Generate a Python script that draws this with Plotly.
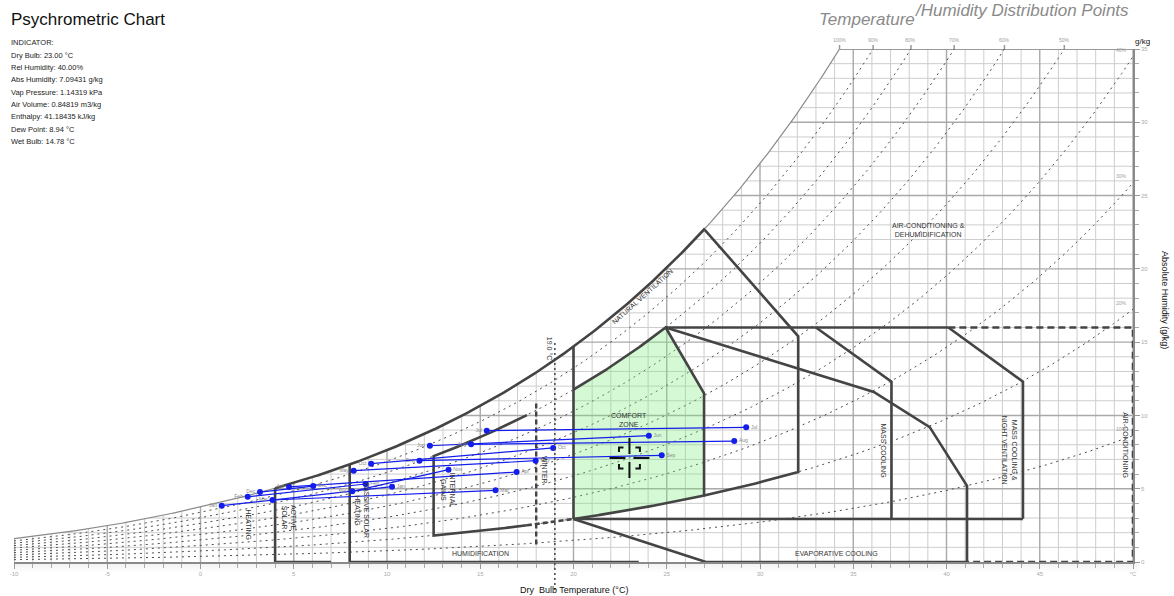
import numpy as np
import plotly.graph_objects as go

# ---------------------------------------------------------------- data
MONTHS = ['Jan', 'Feb', 'Mar', 'Apr', 'May', 'Jun',
          'Jul', 'Aug', 'Sep', 'Oct', 'Nov', 'Dec']
# daily minimum temperature point (°C, g/kg)
T_LOW = [1.14, 2.53, 3.86, 4.75, 8.21, 12.30, 15.35, 14.51, 11.74, 9.15, 8.14, 3.19]
W_LOW = [3.84, 4.45, 4.23, 5.12, 6.23, 7.93, 8.96, 8.03, 6.91, 6.71, 4.82, 4.77]
# daily maximum temperature point (°C, g/kg)
T_HIGH = [10.27, 8.85, 15.82, 16.95, 17.97, 24.04, 29.26, 28.62, 24.73, 18.91, 13.30, 6.04]
W_HIGH = [5.14, 5.32, 4.89, 6.14, 6.91, 8.62, 9.19, 8.25, 7.28, 7.78, 6.30, 5.18]

# indicator state
IND_T = 23.0
IND_RH = 40.0
IND_W = 7.09431
IND_TEXT = ['INDICATOR:',
            'Dry Bulb: %.2f °C' % IND_T,
            'Rel Humidity: %.2f%%' % IND_RH,
            'Abs Humidity: %.5f g/kg' % IND_W,
            'Vap Pressure: 1.14319 kPa',
            'Air Volume: 0.84819 m3/kg',
            'Enthalpy: 41.18435 kJ/kg',
            'Dew Point: 8.94 °C',
            'Wet Bulb: 14.78 °C']

# chart extent
T_MIN, T_MAX = -10, 50
W_MAX = 35
RH_LINES = [0.1, 0.2, 0.3, 0.4, 0.5, 0.6, 0.7, 0.8, 0.9]
X_TICKS = list(range(-10, 50, 5))

# design strategy boundaries (°C, g/kg)
COMFORT_T = [20.0, 27.0]          # left / right dry bulb limits
COMFORT_RH = [0.20, 0.80]         # lower / upper humidity curve
COMFORT_TOP_W = 16.0              # upper humidity ratio of the cooling zones
COMFORT_RIGHT_W = 11.5
NATVENT_T = [27.05, 32.05]
NATVENT_W = [22.65, 15.4]
EVAP_T = [36.1, 39.1, 41.1, 41.1, 27.1]
EVAP_W = [11.6, 9.2, 5.2, 0.0, 0.0]
MASS_T = [33.0, 37.05, 37.05]
MASS_W = [16.0, 12.3, 2.95]
NIGHT_T = [40.1, 44.1, 44.1]
NIGHT_W = [16.0, 12.3, 2.95]
ACTIVE_SOLAR_T = [4.0, 7.0]
PASSIVE_SOLAR_T = [8.0, 23.5]
INTERNAL_T = [12.5, 17.5, 20.0]
WINTER_T = 18.0
WINTER_W = [1.2, 10.9]
SETPOINT_T = 19.0

# ---------------------------------------------------------------- psychrometrics
P_ATM = 101.325  # kPa


def sat_pressure(t):
    t = np.asarray(t, dtype=float)
    water = 0.61078 * np.exp(17.27 * t / (t + 237.3))
    ice = 0.61078 * np.exp(21.875 * t / (t + 265.5))
    return np.where(t < 0, ice, water)


def w_sat(t):
    ps = sat_pressure(t)
    return 622.0 * ps / (P_ATM - ps)


def w_rh(t, rh):
    return rh * w_sat(t)


T_FINE = np.linspace(T_MIN, T_MAX, 3001)


def t_on_curve(rh, w):
    return float(np.interp(w, rh * w_sat(T_FINE), T_FINE))


def rh_curve(rh, t0=T_MIN, t1=T_MAX, n=400):
    t_end = min(t1, t_on_curve(rh, W_MAX)) if rh * w_sat(t1) > W_MAX else t1
    t = np.linspace(t0, t_end, n)
    return t, w_rh(t, rh)


# ---------------------------------------------------------------- layout helpers
L, R, TOP, BOT = 10, 1133, 49, 562
PX_C = (R - L) / (T_MAX - T_MIN)
PX_G = (BOT - TOP) / W_MAX


def px(x):
    return (x - L) / (R - L)


def py(y):
    return (BOT - y) / (BOT - TOP)


fig = go.Figure()


def add_line(x, y, color, width, dash='solid'):
    fig.add_trace(go.Scatter(x=x, y=y, mode='lines', hoverinfo='skip', showlegend=False,
                             line=dict(color=color, width=width, dash=dash)))


# ---------------------------------------------------------------- grid below saturation
for major in (False, True):
    xs, ys = [], []
    for t in range(T_MIN, T_MAX + 1):
        if (t % 5 == 0) != major:
            continue
        xs += [t, t, None]
        ys += [0, min(float(w_sat(t)), W_MAX), None]
    for w in range(1, W_MAX):
        if (w % 5 == 0) != major:
            continue
        xs += [t_on_curve(1.0, w), T_MAX, None]
        ys += [w, w, None]
    add_line(xs, ys, '#a9a9a9' if major else '#cdcdcd', 1.4 if major else 1.0)

# top border
add_line([t_on_curve(1.0, W_MAX), T_MAX], [W_MAX, W_MAX], '#9a9a9a', 2)

# relative humidity curves
for rh in RH_LINES:
    t, w = rh_curve(rh)
    add_line(t, w, '#4d4d4d', 1, '2px,4px')

# saturation curve
t, w = rh_curve(1.0)
add_line(t, w, '#8a8a8a', 1.2)

# ---------------------------------------------------------------- strategy zones
ZC = '#444444'
ZW = 2.6

# comfort zone
t_apex = t_on_curve(COMFORT_RH[1], COMFORT_TOP_W)
tu = np.linspace(COMFORT_T[0], t_apex, 60)
tl = np.linspace(COMFORT_T[1], COMFORT_T[0], 60)
cx = list(tu) + [COMFORT_T[1], COMFORT_T[1]] + list(tl)
cy = list(w_rh(tu, COMFORT_RH[1])) + [COMFORT_RIGHT_W, float(w_rh(COMFORT_T[1], COMFORT_RH[0]))] + list(w_rh(tl, COMFORT_RH[0]))
fig.add_trace(go.Scatter(x=cx, y=cy, mode='lines', fill='toself', fillcolor='rgba(120,235,120,0.32)',
                         line=dict(color=ZC, width=ZW), hoverinfo='skip', showlegend=False))

# saturation edge of heating / ventilation zones
ts = np.linspace(ACTIVE_SOLAR_T[0], NATVENT_T[0], 200)
add_line(ts, w_sat(ts), ZC, ZW)

# natural ventilation
tb = np.linspace(NATVENT_T[1], COMFORT_T[1], 40)
add_line([NATVENT_T[0], NATVENT_T[1]] + list(tb),
         [NATVENT_W[0], NATVENT_W[1]] + list(w_rh(tb, COMFORT_RH[0])), ZC, ZW)
add_line([COMFORT_T[0], COMFORT_T[0]], [float(w_rh(COMFORT_T[0], COMFORT_RH[0])), float(w_sat(COMFORT_T[0]))], ZC, ZW)

# evaporative cooling
w_corner = float(w_rh(COMFORT_T[0], COMFORT_RH[0]))
add_line([t_apex] + EVAP_T + [COMFORT_T[0]], [COMFORT_TOP_W] + EVAP_W + [w_corner], ZC, ZW)

# mass cooling / night ventilation
add_line([t_apex] + NIGHT_T[:1], [COMFORT_TOP_W, COMFORT_TOP_W], ZC, ZW)
add_line(MASS_T, MASS_W, ZC, ZW)
add_line(NIGHT_T, NIGHT_W, ZC, ZW)
add_line([COMFORT_T[0], NIGHT_T[-1]], [w_corner, w_corner], ZC, ZW)

# air conditioning (dashed)
add_line([NIGHT_T[0], T_MAX, T_MAX, EVAP_T[-2]], [COMFORT_TOP_W, COMFORT_TOP_W, 0, 0], ZC, ZW, '7px,4px')

# active / passive solar
add_line([ACTIVE_SOLAR_T[0], ACTIVE_SOLAR_T[0], None, ACTIVE_SOLAR_T[0], ACTIVE_SOLAR_T[1]],
         [float(w_sat(ACTIVE_SOLAR_T[0])), 0, None, 0, 0], ZC, ZW)
add_line([PASSIVE_SOLAR_T[0], PASSIVE_SOLAR_T[0], None, PASSIVE_SOLAR_T[0], PASSIVE_SOLAR_T[1]],
         [float(w_sat(PASSIVE_SOLAR_T[0])), 0, None, 0, 0], ZC, ZW)

# internal gains
ti = np.linspace(INTERNAL_T[0], INTERNAL_T[1], 40)
add_line(list(ti[::-1]) + [INTERNAL_T[0]] + list(ti),
         list(w_rh(ti[::-1], COMFORT_RH[1])) + [float(w_rh(INTERNAL_T[0], COMFORT_RH[0]))] + list(w_rh(ti, COMFORT_RH[0])),
         ZC, ZW)
tj = np.linspace(INTERNAL_T[1], INTERNAL_T[2], 20)
add_line(tj, w_rh(tj, COMFORT_RH[0]), ZC, ZW, '5px,3px')

# winter / set point
add_line([WINTER_T, WINTER_T], WINTER_W, ZC, 2.4, '5px,3px')

# ---------------------------------------------------------------- monthly points
BLUE = 'rgb(20,30,235)'
for i, m in enumerate(MONTHS):
    fig.add_trace(go.Scatter(
        x=[T_LOW[i], T_HIGH[i]], y=[W_LOW[i], W_HIGH[i]], mode='lines+markers+text',
        text=[m, m], textposition=['middle left', 'middle right'],
        textfont=dict(size=5, color='#888888', family='Arial'),
        line=dict(color=BLUE, width=1.2), marker=dict(color=BLUE, size=6),
        hoverinfo='skip', showlegend=False, cliponaxis=False))

# ---------------------------------------------------------------- indicator cross
bx, by = 10.5 / PX_C, 10.5 / PX_G
ox, oy = 20 / PX_C, 20 / PX_G
gx, gy = 4 / PX_C, 4 / PX_G
ax, ay = 4.5 / PX_C, 4.5 / PX_G
cxs, cys = [], []
for s in (-1, 1):
    cxs += [IND_T + s * ox, IND_T + s * gx, None]
    cys += [IND_W, IND_W, None]
    cxs += [IND_T, IND_T, None]
    cys += [IND_W + s * oy, IND_W + s * gy, None]
for sx in (-1, 1):
    for sy in (-1, 1):
        cxs += [IND_T + sx * (bx - ax), IND_T + sx * bx, IND_T + sx * bx, None]
        cys += [IND_W + sy * by, IND_W + sy * by, IND_W + sy * (by - ay), None]
add_line(cxs, cys, '#111111', 2)

# ---------------------------------------------------------------- annotations
ann = []
FONT = 'Arial, Liberation Sans, sans-serif'


def text(x, y, s, size=7, color='#333333', angle=0, xref='x', yref='y', xa='center', ya='middle', italic=False):
    ann.append(dict(x=x, y=y, xref=xref, yref=yref, text=s, showarrow=False, textangle=angle,
                    xanchor=xa, yanchor=ya,
                    font=dict(size=size, color=color, family=FONT, style='italic' if italic else 'normal')))


text(2.56, 2.55, 'HEATING', angle=90)
text(4.75, 3.0, 'ACTIVE<br>SOLAR', angle=90)
text(8.7, 3.5, 'PASSIVE SOLAR<br>HEATING', angle=90)
text(13.25, 4.9, 'INTERNAL<br>GAINS', angle=90)
text(18.45, 6.3, 'WINTER', angle=90)
text(18.75, 14.6, '19.0 °C', angle=90)
text(23.0, 9.7, 'COMFORT<br>ZONE')
text(23.7, 18.1, 'NATURAL VENTILATION', angle=-42)
text(39.05, 22.65, 'AIR-CONDITIONING &<br>DEHUMIDIFICATION')
text(36.6, 7.6, 'MASS COOLING', angle=90)
text(43.4, 7.6, 'MASS COOLING &<br>NIGHT VENTILATION', angle=90)
text(49.6, 8.0, 'AIR-CONDITIONING', angle=90)
text(15.0, 0.6, 'HUMIDIFICATION')
text(34.1, 0.6, 'EVAPORATIVE COOLING')

# humidity curve labels
shapes = []
for rh in RH_LINES + [1.0]:
    if rh * w_sat(T_MAX) > W_MAX:
        tt = t_on_curve(rh, W_MAX)
        text(tt, py(40), '%d%%' % round(rh * 100), size=5, color='#a0a0a0', yref='paper')
        shapes.append(dict(type='line', xref='x', yref='paper', x0=tt, x1=tt, y0=1.0, y1=py(45),
                           line=dict(color='#999999', width=1.5)))
    else:
        text(49.8, float(w_rh(T_MAX, rh)) + 0.45, '%d%%' % round(rh * 100), size=5, color='#a0a0a0', xa='right')

# set point line reaching below the axis
shapes.append(dict(type='line', xref='x', yref='paper', x0=SETPOINT_T, x1=SETPOINT_T,
                   y0=py(590), y1=py(340), line=dict(color='#444444', width=1.5, dash='2px,3px')))

# soft shadow along bottom edge
for k in range(8):
    op = 0.05 * (1 - k / 8)
    shapes.append(dict(type='rect', xref='paper', yref='paper', layer='below', x0=px(L), x1=px(R + 6),
                       y0=py(BOT + 1 + k * 1.2), y1=py(BOT + 1 + (k + 1) * 1.2),
                       line=dict(width=0), fillcolor='rgba(0,0,0,%.3f)' % op))

# titles
text(px(5), py(20), 'Psychrometric Chart', size=17, color='#111111', xref='paper', yref='paper', xa='left')
for i, line in enumerate(IND_TEXT):
    text(px(5), py(42.7 + i * 12.33), line, size=7.5, color='#222222', xref='paper', yref='paper', xa='left')
text(px(916), py(20), 'Temperature', size=17, color='#8a8a8a', xref='paper', yref='paper', xa='right', italic=True)
text(px(912), py(10), '/Humidity Distribution Points', size=17, color='#8a8a8a', xref='paper', yref='paper', xa='left', italic=True)
text(px(1143), py(41), 'g/kg', size=8, color='#111111', xref='paper', yref='paper')
text(px(572), py(590), 'Dry  Bulb Temperature (°C)', size=9, color='#111111', xref='paper', yref='paper')
text(px(1165), py(300), 'Absolute Humidity (g/kg)', size=9, color='#111111', xref='paper', yref='paper', angle=90)

fig.update_layout(
    width=1174, height=596, autosize=False,
    margin=dict(l=L, r=1174 - R, t=TOP, b=596 - BOT),
    paper_bgcolor='white', plot_bgcolor='white',
    showlegend=False, annotations=ann, shapes=shapes,
    xaxis=dict(range=[T_MIN, T_MAX], showgrid=False, zeroline=False,
               showline=True, linecolor='#8a8a8a', linewidth=1.5,
               tickmode='array', tickvals=X_TICKS + [T_MAX],
               ticktext=[str(v) for v in X_TICKS] + ['°C'],
               ticks='outside', ticklen=5, tickcolor='#999999', tickwidth=1,
               minor=dict(ticks='outside', dtick=1, ticklen=4, tickcolor='#aaaaaa', showgrid=False),
               tickfont=dict(size=6, color='#aaaaaa', family=FONT)),
    yaxis=dict(range=[0, W_MAX], side='right', showgrid=False, zeroline=False,
               showline=True, linecolor='#8a8a8a', linewidth=1.5,
               tickmode='array', tickvals=list(range(0, W_MAX + 1, 5)),
               ticks='outside', ticklen=5, tickcolor='#999999', tickwidth=1,
               minor=dict(ticks='outside', dtick=1, ticklen=4, tickcolor='#aaaaaa', showgrid=False),
               tickfont=dict(size=6, color='#aaaaaa', family=FONT)),
)

fig.write_html('out.html')
